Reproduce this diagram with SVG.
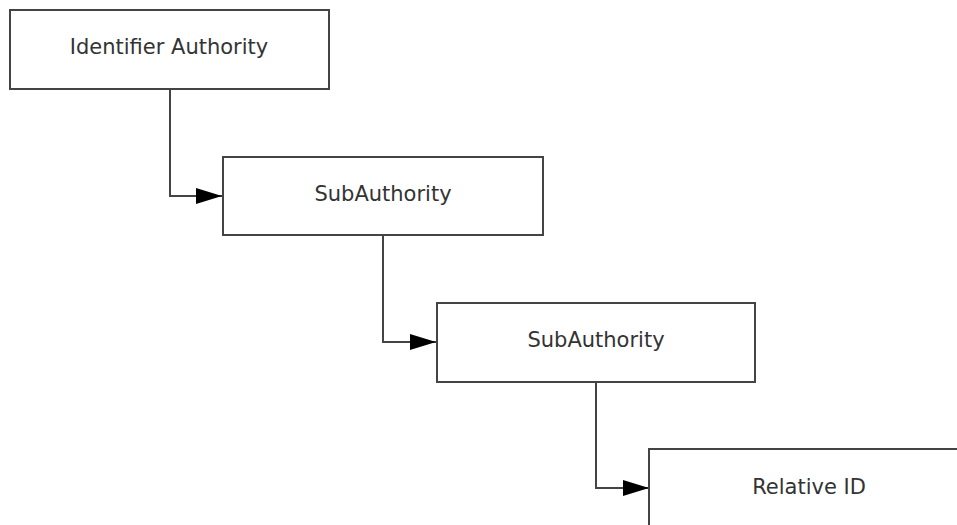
<svg xmlns="http://www.w3.org/2000/svg" width="957" height="525" viewBox="0 0 957 525">
  <style>
    .box { fill: #ffffff; stroke: #444444; stroke-width: 2; }
    .label { font-family: "DejaVu Sans", Verdana, sans-serif; font-size: 21px; fill: #333333; text-anchor: middle; dominant-baseline: central; }
    .link { fill: none; stroke: #444444; stroke-width: 2; marker-end: url(#arrow); }
  </style>
  <defs>
    <marker id="arrow" markerUnits="userSpaceOnUse" viewBox="0 0 26 16" refX="26" refY="8" markerWidth="26" markerHeight="16" orient="auto">
      <path d="M0,0 L26,8 L0,16 Z" fill="#000000"/>
    </marker>
  </defs>
  <rect width="957" height="525" fill="#ffffff"/>

  <g id="connectors">
    <path class="link" d="M170,89 V196 H222"/>
    <path class="link" d="M383,235 V342 H436"/>
    <path class="link" d="M596,382 V488 H649"/>
  </g>

  <g id="identifier-authority">
    <rect class="box" x="10" y="10" width="319" height="79"/>
    <text class="label" x="169" y="47">Identifier Authority</text>
  </g>
  <g id="sub-authority-1">
    <rect class="box" x="223" y="157" width="320" height="78"/>
    <text class="label" x="383" y="194">SubAuthority</text>
  </g>
  <g id="sub-authority-2">
    <rect class="box" x="437" y="303" width="318" height="79"/>
    <text class="label" x="596" y="340">SubAuthority</text>
  </g>
  <g id="relative-id">
    <rect class="box" x="649" y="449" width="330" height="100"/>
    <text class="label" x="809" y="487">Relative ID</text>
  </g>
</svg>
